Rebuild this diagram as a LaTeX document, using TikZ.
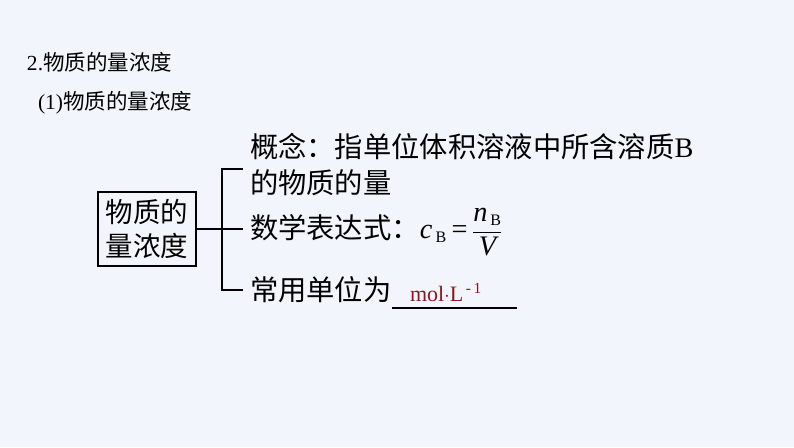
\documentclass[tikz,border=0pt]{standalone}
\usepackage{amsmath}
\usepackage{fontspec}
\usepackage{tikz}
\usetikzlibrary{positioning,calc}
\setmainfont{Liberation Serif}
\newfontfamily\cjk{Noto Sans CJK SC}
\definecolor{pagebg}{RGB}{242,246,252}
\definecolor{unitred}{RGB}{140,22,30}

\begin{document}
\begin{tikzpicture}[x=1pt,y=-1pt,
    every node/.style={inner sep=0pt, outer sep=0pt, anchor=west},
    heading/.style={font=\fontsize{21.5}{25}\selectfont},
    bodytext/.style={font=\fontsize{28.3}{34}\selectfont},
    termbox/.style={draw, line width=1.2pt, anchor=center, align=center,
        minimum width=98pt, minimum height=74pt, font=\fontsize{27.5}{34}\selectfont},
    bracket/.style={line width=1.2pt}]
    % background
    \fill[pagebg] (0,0) rectangle (794,447);
    \useasboundingbox (0,0) rectangle (794,447);

    % headings
    \node[heading] (title) at (27,62) {2.{\cjk 物质的量浓度}};
    \node[heading] (subtitle) at (38,103) {(1){\cjk 物质的量浓度}};

    % term box
    \node[termbox] (conc) at (147,229) {{\cjk 物质的}\\{\cjk 量浓度}};

    % bracket
    \coordinate (btop) at (243,169);
    \coordinate (bmid) at (243,229);
    \coordinate (bbot) at (243,290);
    \draw[bracket] (conc.east) -- (bmid);
    \draw[bracket] (btop) -| (bbot -| 222,0) -- (bbot);

    % branches
    \node[bodytext] (def1) at (250,147) {{\cjk 概念：指单位体积溶液中所含溶质}B};
    \node[bodytext] (def2) at (250,183) {{\cjk 的物质的量}};
    \node[bodytext] (formula) at (250,232) {{\cjk 数学表达式：}%
        \textit{c}\textsubscript{\,\fontsize{16}{16}\selectfont B}\,=\,$\dfrac{\textit{n}_{\text{\fontsize{16}{16}\selectfont\,B}}}{\textit{V}}$};
    \node[bodytext] (unit) at (250,290) {{\cjk 常用单位为}};

    % answer blank
    \coordinate (ulstart) at (392,308);
    \coordinate (ulend) at (517,308);
    \draw[line width=1.2pt] (ulstart) -- (ulend);
    \node[font=\fontsize{22}{24}\selectfont, text=unitred, anchor=base west] (answer) at (410,301)
        {mol$\cdot$L\textsuperscript{\,-\,1}};
\end{tikzpicture}
\end{document}
